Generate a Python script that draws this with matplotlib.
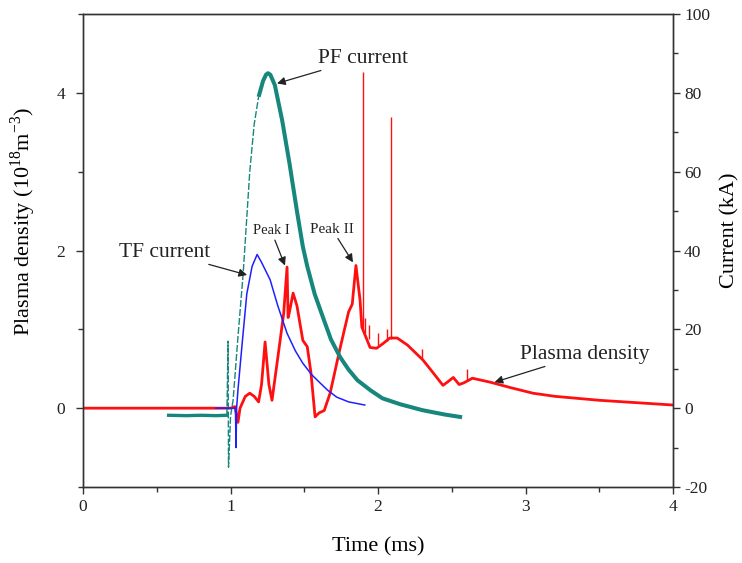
import matplotlib
matplotlib.use('Agg')
import matplotlib.pyplot as plt
from matplotlib.ticker import MultipleLocator

plt.rcParams['font.family'] = ['Liberation Serif', 'DejaVu Serif']
plt.rcParams['mathtext.fontset'] = 'custom'
plt.rcParams['mathtext.rm'] = 'Liberation Serif'
plt.rcParams['axes.unicode_minus'] = False

# PF current (kA), right axis
pf_t = [0.58, 0.70, 0.80, 0.90, 0.975, 0.983, 0.986, 1.0, 1.017, 1.05, 1.085, 1.13, 1.16,
        1.19, 1.22, 1.24, 1.254, 1.27, 1.30, 1.35, 1.40, 1.45, 1.49, 1.52, 1.57, 1.627,
        1.68, 1.742, 1.80, 1.86, 1.95, 2.03, 2.15, 2.30, 2.45, 2.57]
pf_i = [-1.8, -1.9, -1.8, -1.9, -1.8, 17, -15, -2, 2, 18, 34, 60, 72,
        79, 83, 84.6, 85, 84.6, 82, 73, 62, 50, 41, 36, 29, 23,
        17.5, 13, 9.8, 7.1, 4.5, 2.5, 1.0, -0.5, -1.6, -2.3]

# TF current (kA), right axis
tf_t = [0.90, 1.02, 1.033, 1.037, 1.041, 1.05, 1.08, 1.11, 1.146, 1.18, 1.21, 1.268,
        1.32, 1.383, 1.44, 1.49, 1.55, 1.607, 1.66, 1.72, 1.80, 1.91]
tf_i = [0, 0, 0, -10, 0, 4.6, 17, 29, 36, 39, 37, 32.6,
        26, 19, 14.5, 11.4, 8.5, 6.4, 4.5, 2.8, 1.6, 0.8]

# plasma density (1e18 m^-3), left axis
nd_t = [0, 0.5, 1.0, 1.03, 1.05, 1.064, 1.10, 1.13, 1.16, 1.19, 1.21, 1.234, 1.26, 1.281,
        1.31, 1.336, 1.36, 1.383, 1.39, 1.397, 1.424, 1.45, 1.49, 1.505, 1.52, 1.545,
        1.573, 1.60, 1.635, 1.675, 1.74, 1.80, 1.825, 1.85, 1.878, 1.89, 1.946,
        1.99, 2.034, 2.08, 2.13, 2.20, 2.305, 2.373, 2.44, 2.47, 2.51, 2.55, 2.58,
        2.64, 2.76, 2.90, 3.05, 3.2, 3.5, 3.75, 4.0]
nd_v = [0, 0, 0, 0.02, -0.18, 0, 0.15, 0.19, 0.15, 0.08, 0.3, 0.84, 0.3, 0.1,
        0.5, 0.86, 1.2, 1.79, 1.15, 1.2, 1.46, 1.3, 0.86, 0.82, 0.78, 0.45,
        -0.11, -0.06, -0.03, 0.19, 0.74, 1.22, 1.32, 1.81, 1.37, 1.03, 0.77,
        0.76, 0.82, 0.89, 0.89, 0.8, 0.61, 0.45, 0.29, 0.33, 0.39, 0.3, 0.32,
        0.38, 0.33, 0.26, 0.19, 0.15, 0.1, 0.07, 0.04]

# narrow spikes on the density trace
sp_t = [1.898, 2.088, 1.912, 1.94, 2.0, 2.06, 2.30, 2.60]
sp_lo = [1.0, 0.88, 0.95, 0.88, 0.8, 0.85, 0.62, 0.35]
sp_hi = [4.26, 3.69, 1.15, 1.05, 0.95, 1.0, 0.75, 0.5]

red = '#ff1010'
teal = '#17877d'
blue = '#2020ff'
spine_c = '#333333'

fig = plt.figure(figsize=(7.42, 5.63), dpi=100)
ax = fig.add_axes([0.112, 0.135, 0.795, 0.840])
ax2 = ax.twinx()

# density
ax.plot(nd_t, nd_v, color=red, lw=2.0)
ax.vlines(sp_t, sp_lo, sp_hi, color=red, lw=1.0)

# PF current: thick baseline, thin steep rise, thick decay
ax2.plot(pf_t[:5], pf_i[:5], color=teal, lw=2.4)
ax2.plot(pf_t[4:14], pf_i[4:14], color=teal, lw=1.0, linestyle=(0, (5, 1.5)))
ax2.plot(pf_t[13:], pf_i[13:], color=teal, lw=2.9, solid_capstyle='butt')

# TF current
ax2.plot(tf_t, tf_i, color=blue, lw=1.1)

ax.set_xlim(0, 4)
ax.set_ylim(-1, 5)
ax2.set_ylim(-20, 100)
ax.set_yticks([0, 2, 4])
ax.yaxis.set_minor_locator(MultipleLocator(1))
ax.xaxis.set_major_locator(MultipleLocator(1))
ax.xaxis.set_minor_locator(MultipleLocator(0.5))
ax2.yaxis.set_major_locator(MultipleLocator(20))
ax2.yaxis.set_minor_locator(MultipleLocator(10))

for a in (ax, ax2):
    a.tick_params(which='both', direction='out', colors=spine_c, labelcolor='#222222',
                  labelsize=12.5, width=1.0)
    a.tick_params(which='major', length=5)
    a.tick_params(which='minor', length=3.5)
    for s in a.spines.values():
        s.set_color(spine_c)
        s.set_linewidth(1.0)
ax.tick_params(axis='y', which='major', pad=8)
ax2.tick_params(axis='y', which='major', pad=3)

ax.set_xlabel('Time (ms)', fontsize=16, labelpad=16)
ax.set_ylabel('Plasma density (10$^{\\mathrm{18}}$m$^{\\mathrm{-3}}$)', fontsize=16)
ax.yaxis.set_label_coords(-0.076, 0.562)
ax2.set_ylabel('Current (kA)', fontsize=16)
ax2.yaxis.set_label_coords(1.080, 0.543)

arrow = dict(arrowstyle='-|>', color='#222222', lw=0.9, mutation_scale=12, shrinkA=0, shrinkB=0)
notes = [
    ('PF current', (1.315, 4.12), (1.59, 4.44), 15.5, 'left'),
    ('TF current', (1.112, 1.69), (0.86, 1.98), 15.5, 'right'),
    ('Peak I', (1.369, 1.81), (1.275, 2.25), 10.5, 'center'),
    ('Peak II', (1.83, 1.85), (1.688, 2.27), 11, 'center'),
    ('Plasma density', (2.79, 0.33), (2.96, 0.685), 15.5, 'left'),
]
for txt, xy, xyt, fs, ha in notes:
    ax2.annotate(txt, xy=xy, xytext=xyt, xycoords=ax.transData, textcoords=ax.transData,
                 fontsize=fs, ha=ha, va='center', color='#222222', arrowprops=arrow)

fig.savefig('out.png', dpi=100)
